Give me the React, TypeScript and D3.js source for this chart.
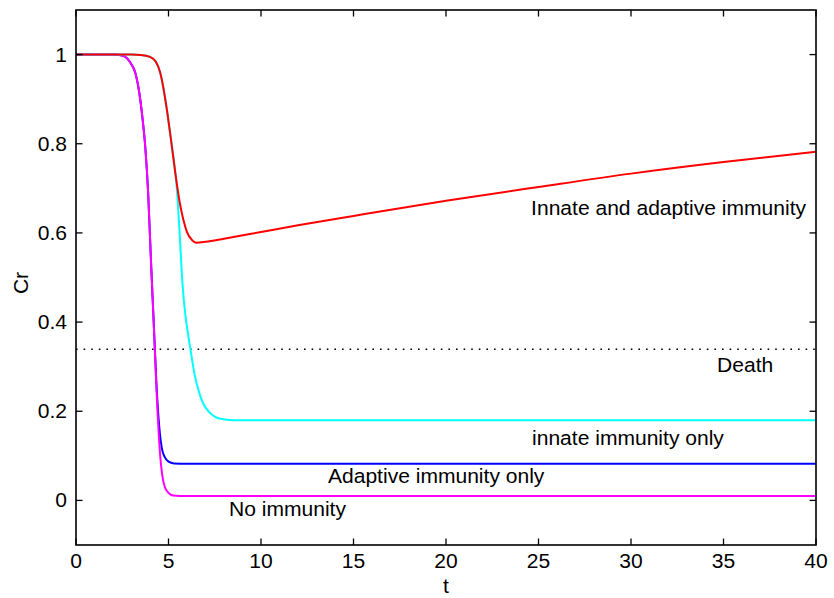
import React from "react";
import * as d3 from "d3";

const W = 834;
const H = 598;
const M = { left: 76, right: 18, top: 10, bottom: 53 };

const xTicks = [0, 5, 10, 15, 20, 25, 30, 35, 40];
const yTicks = [0, 0.2, 0.4, 0.6, 0.8, 1];
const yTickLabels = ["0", "0.2", "0.4", "0.6", "0.8", "1"];

const deathLevel = 0.339;

const noImmT = [0, 2.0, 2.5, 2.8, 3.0, 3.2, 3.4, 3.6, 3.75, 3.9, 4.05, 4.2, 4.35, 4.5, 4.65, 4.8, 5.0, 5.25, 5.6, 40];
const noImmV = [1, 1, 0.998, 0.99, 0.978, 0.96, 0.92, 0.855, 0.79, 0.69, 0.54, 0.4, 0.25, 0.13, 0.06, 0.03, 0.017, 0.011, 0.01, 0.01];

const adaptT = [0, 2.0, 2.5, 2.8, 3.0, 3.2, 3.4, 3.6, 3.75, 3.9, 4.05, 4.2, 4.35, 4.5, 4.65, 4.8, 5.0, 5.3, 6, 40];
const adaptV = [1, 1, 0.998, 0.99, 0.978, 0.96, 0.92, 0.855, 0.79, 0.69, 0.54, 0.4, 0.26, 0.165, 0.115, 0.097, 0.087, 0.083, 0.082, 0.082];

const innateT = [0, 3.0, 3.5, 4.0, 4.3, 4.55, 4.9, 5.1, 5.3, 5.45, 5.6, 5.75, 5.9, 6.05, 6.2, 6.4, 6.6, 6.87, 7.2, 7.5, 7.8, 8.5, 40];
const innateV = [1, 1, 0.999, 0.995, 0.985, 0.96, 0.88, 0.82, 0.76, 0.7, 0.6, 0.49, 0.42, 0.375, 0.335, 0.285, 0.25, 0.218, 0.198, 0.188, 0.183, 0.18, 0.18];

const bothT = [0, 3.0, 3.5, 4.0, 4.3, 4.55, 4.9, 5.1, 5.35, 5.6, 5.8, 6.0, 6.25, 6.5, 7, 8, 10, 12, 15, 20, 25, 30, 35, 40];
const bothV = [1, 1, 0.999, 0.995, 0.985, 0.96, 0.88, 0.82, 0.74, 0.67, 0.63, 0.602, 0.585, 0.578, 0.58, 0.587, 0.602, 0.617, 0.638, 0.672, 0.703, 0.733, 0.759, 0.782];

const series = [
  { name: "Adaptive immunity only", t: adaptT, v: adaptV, color: "#0000ff" },
  { name: "No immunity", t: noImmT, v: noImmV, color: "#ff00ff" },
  { name: "innate immunity only", t: innateT, v: innateV, color: "#00ffff" },
  { name: "Innate and adaptive immunity", t: bothT, v: bothV, color: "#ff0000" },
];

const labels = [
  { text: "Innate and adaptive immunity", t: 24.6, v: 0.64 },
  { text: "Death", t: 34.65, v: 0.287 },
  { text: "innate immunity only", t: 24.65, v: 0.124 },
  { text: "Adaptive immunity only", t: 13.62, v: 0.038 },
  { text: "No immunity", t: 8.27, v: -0.034 },
];

const FONT = "'Liberation Sans', Arial, Helvetica, sans-serif";

export default function App() {
  const x = d3.scaleLinear().domain([0, 40]).range([M.left, W - M.right]);
  const y = d3.scaleLinear().domain([-0.1, 1.1]).range([H - M.bottom, M.top]);
  const line = d3
    .line<[number, number]>()
    .x((d) => x(d[0]))
    .y((d) => y(d[1]))
    .curve(d3.curveMonotoneX);
  const x0 = x(0), x1 = x(40), y0 = y(-0.1), y1 = y(1.1);
  const tl = 6.5;
  const sx = 1.08;
  return (
    <svg
      width={W}
      height={H}
      style={{ position: "absolute", left: 0, top: 0, display: "block", background: "#fff" }}
      fontFamily={FONT}
    >
      <rect x={0} y={0} width={W} height={H} fill="#fff" />
      <line
        x1={x0}
        x2={x1}
        y1={y(deathLevel)}
        y2={y(deathLevel)}
        stroke="#000"
        strokeWidth={1.6}
        strokeDasharray="1.6,6"
      />
      {series.map((s) => (
        <path
          key={s.name}
          d={line(s.t.map((t, i) => [t, s.v[i]] as [number, number])) || ""}
          fill="none"
          stroke={s.color}
          strokeWidth={2}
        />
      ))}
      <rect x={x0} y={y1} width={x1 - x0} height={y0 - y1} fill="none" stroke="#000" strokeWidth={1.6} />
      {xTicks.map((t) => (
        <g key={"xt" + t}>
          <line x1={x(t)} x2={x(t)} y1={y0} y2={y0 - tl} stroke="#000" strokeWidth={1.3} />
          <line x1={x(t)} x2={x(t)} y1={y1} y2={y1 + tl} stroke="#000" strokeWidth={1.3} />
          <text
            transform={`translate(${x(t)},${y0 + 23}) scale(${sx},1)`}
            textAnchor="middle"
            fontSize={19.5}
            fill="#000"
          >
            {t}
          </text>
        </g>
      ))}
      {yTicks.map((v, i) => (
        <g key={"yt" + v}>
          <line x1={x0} x2={x0 + tl} y1={y(v)} y2={y(v)} stroke="#000" strokeWidth={1.3} />
          <line x1={x1} x2={x1 - tl} y1={y(v)} y2={y(v)} stroke="#000" strokeWidth={1.3} />
          <text
            transform={`translate(${x0 - 9},${y(v) + 7}) scale(${sx},1)`}
            textAnchor="end"
            fontSize={19.5}
            fill="#000"
          >
            {yTickLabels[i]}
          </text>
        </g>
      ))}
      <text
        transform={`translate(28,283) rotate(-90) scale(${sx},1)`}
        textAnchor="middle"
        fontSize={19.5}
        fill="#000"
      >
        Cr
      </text>
      <text
        transform={`translate(${x(20)},${593}) scale(${sx},1)`}
        textAnchor="middle"
        fontSize={19.5}
        fill="#000"
      >
        t
      </text>
      {labels.map((l) => (
        <text
          key={l.text}
          transform={`translate(${x(l.t)},${y(l.v)}) scale(${sx},1)`}
          fontSize={19.5}
          fill="#000"
        >
          {l.text}
        </text>
      ))}
    </svg>
  );
}
